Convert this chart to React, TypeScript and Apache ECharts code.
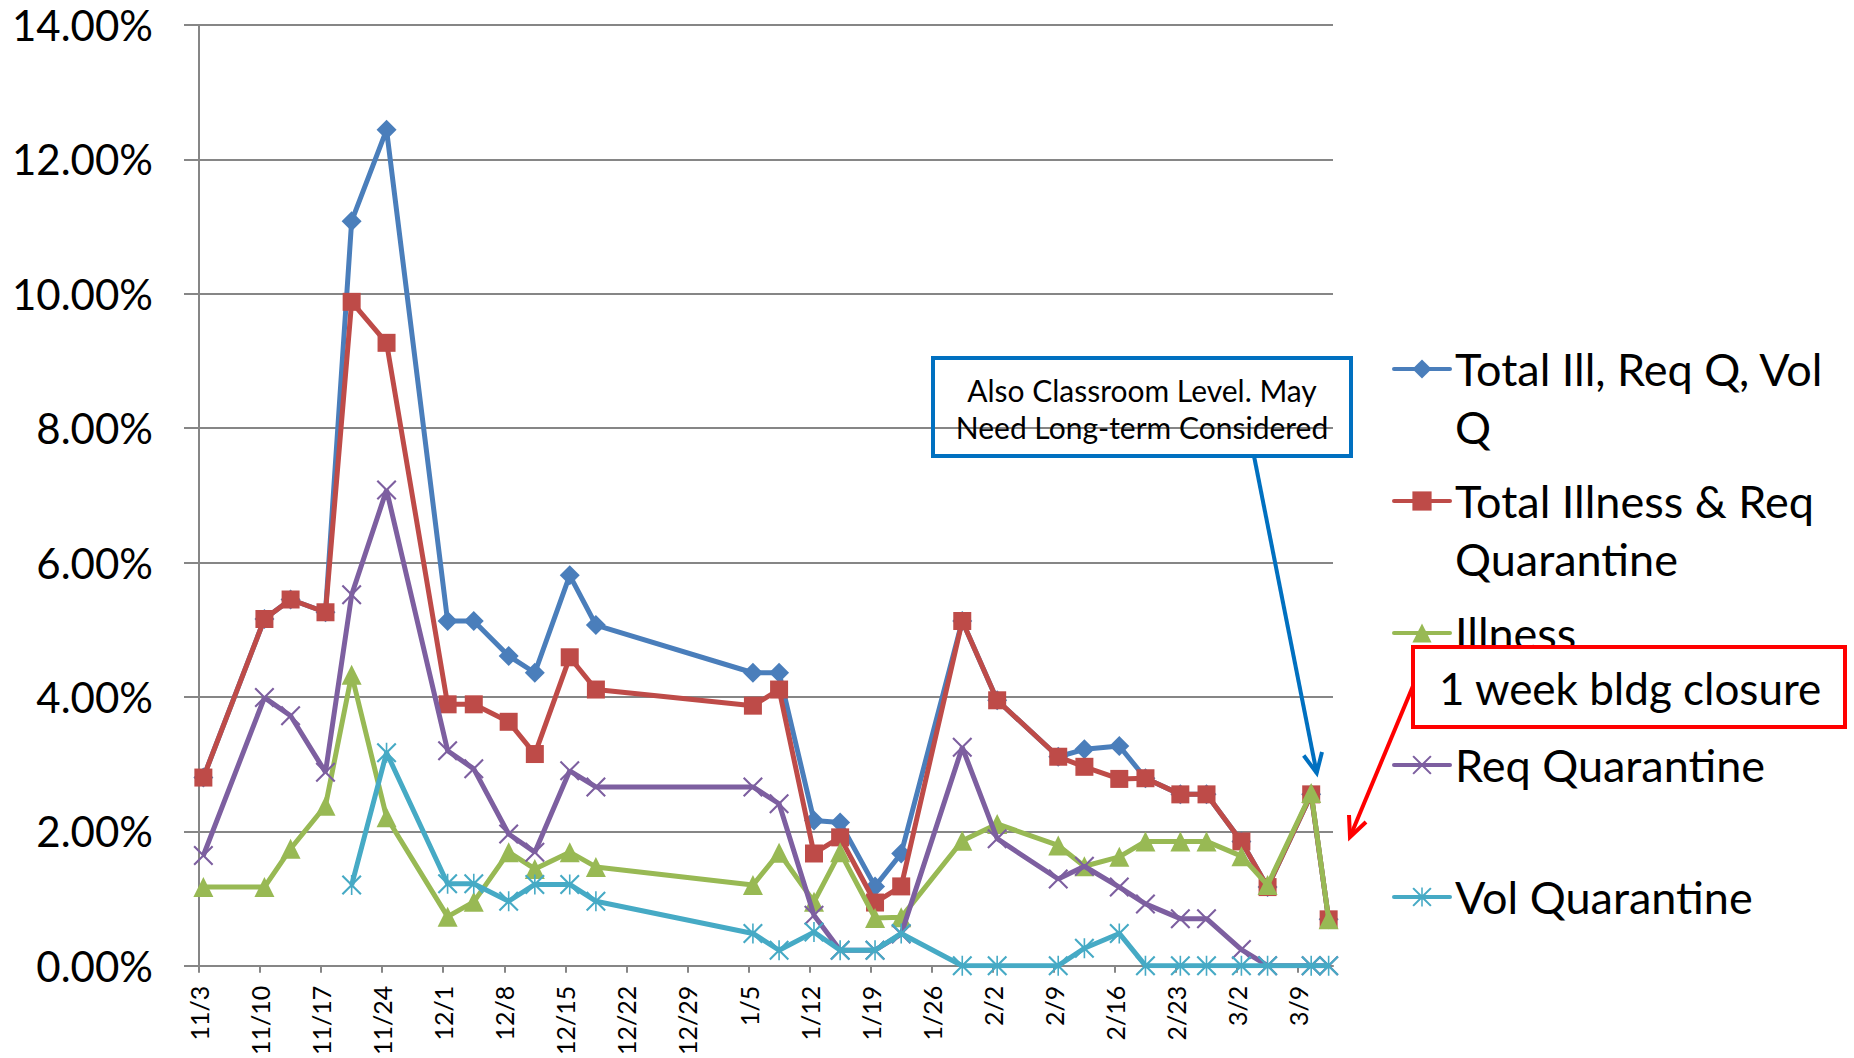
import React, { useEffect, useRef } from "react";
import * as echarts from "echarts";

// ---- data (percent units) ----
const dates = [
  "11/3", "11/10", "11/13", "11/17", "11/20", "11/24", "12/1", "12/4", "12/8", "12/11",
  "12/15", "12/18", "1/5", "1/8", "1/12", "1/15", "1/19", "1/22", "1/29", "2/2",
  "2/9", "2/12", "2/16", "2/19", "2/23", "2/26", "3/2", "3/5", "3/10", "3/12",
];

const tickLabels = [
  "11/3", "11/10", "11/17", "11/24", "12/1", "12/8", "12/15", "12/22", "12/29", "1/5",
  "1/12", "1/19", "1/26", "2/2", "2/9", "2/16", "2/23", "3/2", "3/9",
];

const yTicks = [0, 2, 4, 6, 8, 10, 12, 14];

const totalAll = [
  2.8, 5.16, 5.45, 5.26, 11.08, 12.44, 5.13, 5.13, 4.61, 4.36,
  5.81, 5.07, 4.36, 4.36, 2.16, 2.13, 1.18, 1.67, 5.13, 3.95,
  3.11, 3.22, 3.27, 2.79, 2.55, 2.55, 1.85, 1.17, 2.55, 0.69,
];

const totalIllReq = [
  2.8, 5.16, 5.45, 5.26, 9.88, 9.27, 3.89, 3.89, 3.63, 3.15,
  4.59, 4.11, 3.87, 4.11, 1.67, 1.91, 0.94, 1.18, 5.13, 3.95,
  3.11, 2.96, 2.78, 2.79, 2.55, 2.55, 1.85, 1.17, 2.55, 0.69,
];

const illness = [
  1.17, 1.17, 1.74, 2.38, 4.33, 2.21, 0.73, 0.95, 1.69, 1.44,
  1.69, 1.47, 1.2, 1.68, 0.95, 1.69, 0.71, 0.72, 1.86, 2.11,
  1.79, 1.48, 1.62, 1.85, 1.85, 1.85, 1.63, 1.2, 2.57, 0.69,
];

const reqQuarantine = [
  1.64, 3.99, 3.72, 2.88, 5.52, 7.08, 3.2, 2.93, 1.96, 1.69,
  2.9, 2.66, 2.66, 2.41, 0.75, 0.23, 0.23, 0.47, 3.25, 1.89,
  1.29, 1.48, 1.17, 0.92, 0.7, 0.7, 0.24, 0, 0, 0,
];

const volQuarantine = [
  null, null, null, null, 1.2, 3.17, 1.22, 1.22, 0.96, 1.21,
  1.21, 0.96, 0.48, 0.23, 0.5, 0.23, 0.23, 0.48, 0, 0,
  0, 0.26, 0.48, 0, 0, 0, 0, 0, 0, 0,
];

const seriesNames = [
  "Total Ill, Req Q, Vol Q",
  "Total Illness & Req Quarantine",
  "Illness",
  "Req Quarantine",
  "Vol Quarantine",
];
const legendLines = [
  ["Total Ill, Req Q, Vol", "Q"],
  ["Total Illness & Req", "Quarantine"],
  ["Illness"],
  ["Req Quarantine"],
  ["Vol Quarantine"],
];

const colors = ["#4A7EBB", "#BE4B48", "#98B954", "#7D5FA0", "#46AAC5"];

const FONT = "Lato";

const X_PATH =
  "M1.5,0L10,8.5L18.5,0L20,1.5L11.5,10L20,18.5L18.5,20L10,11.5L1.5,20L0,18.5L8.5,10L0,1.5Z";
const STAR_PATH = X_PATH + "M9.2,0L10.8,0L10.8,20L9.2,20Z";
const symbols = ["diamond", "rect", "triangle", "path://" + X_PATH, "path://" + STAR_PATH];
const symbolSizes = [[20, 20], 18, 20, 20, 20];

function dayOffset(s: string): number {
  const [m, d] = s.split("/").map(Number);
  const year = m >= 8 ? 2009 : 2010;
  return Math.round((Date.UTC(year, m - 1, d) - Date.UTC(2009, 10, 3)) / 86400000);
}

const tickValues = tickLabels.map(dayOffset);
const tickMap: Record<number, string> = {};
tickLabels.forEach((t, i) => (tickMap[tickValues[i]] = t));
const xMax = dayOffset(dates[dates.length - 1]) + 1;

export default function App() {
  const ref = useRef<HTMLDivElement>(null);

  useEffect(() => {
    if (!ref.current) return;
    const chart = echarts.init(ref.current, null, { renderer: "svg" });

    const allSeries = [totalAll, totalIllReq, illness, reqQuarantine, volQuarantine];
    const series = allSeries.map((vals, i) => ({
      name: seriesNames[i],
      type: "line",
      data: vals.map((v, k) => [dayOffset(dates[k]) + 0.5, v]),
      symbol: symbols[i],
      symbolSize: symbolSizes[i],
      showAllSymbol: true,
      lineStyle: { width: 5, color: colors[i] },
      itemStyle: { color: colors[i] },
      emphasis: { disabled: true },
      z: 2 + i,
    }));

    const LH = 58;
    const iconY = [369, 501, 633, 765, 897];
    const legends = seriesNames.map((name, i) => {
      const two = legendLines[i].length > 1;
      const text = two ? "\n" + legendLines[i].join("\n") : legendLines[i][0];
      return {
        data: [name],
        orient: "vertical",
        left: 1392,
        top: iconY[i] - (two ? 1.5 : 0.5) * LH,
        padding: 0,
        itemWidth: 56,
        itemHeight: 24,
        itemGap: 0,
        selectedMode: false,
        formatter: () => text,
        lineStyle: { width: 4, cap: "round" },
        textStyle: { fontFamily: FONT, fontSize: 45, lineHeight: LH, color: "#000" },
      };
    });

    chart.setOption({
      animation: false,
      backgroundColor: "#ffffff",
      grid: { left: 199, right: 521, top: 25, bottom: 88, containLabel: false },
      legend: legends,
      xAxis: {
        type: "value",
        min: 0,
        max: xMax,
        interval: 7,
        axisLine: { show: true, lineStyle: { color: "#868686", width: 2 } },
        axisTick: { show: true, length: 7, customValues: tickValues, lineStyle: { color: "#868686", width: 2 } },
        splitLine: { show: false },
        axisLabel: {
          customValues: tickValues,
          rotate: 90,
          margin: 20,
          formatter: (v: number) => tickMap[v] ?? "",
          fontFamily: FONT,
          fontSize: 25,
          color: "#000",
        },
      },
      yAxis: {
        type: "value",
        min: yTicks[0],
        max: yTicks[yTicks.length - 1],
        interval: 2,
        axisLine: { show: true, lineStyle: { color: "#868686", width: 2 } },
        axisTick: { show: true, length: 15, lineStyle: { color: "#868686", width: 2 } },
        splitLine: { show: true, lineStyle: { color: "#868686", width: 2 } },
        axisLabel: {
          margin: 46,
          formatter: (v: number) => v.toFixed(2) + "%",
          fontFamily: FONT,
          fontSize: 42,
          color: "#000",
        },
      },
      series,
      graphic: [
        {
          type: "rect",
          z: 100,
          shape: { x: 933, y: 358, width: 418, height: 98 },
          style: { fill: "none", stroke: "#0070C0", lineWidth: 4 },
        },
        {
          type: "text",
          z: 101,
          x: 1142,
          y: 408.5,
          style: {
            text: "Also Classroom Level. May\nNeed Long-term Considered",
            fontFamily: FONT,
            fontSize: 30,
            lineHeight: 37,
            fill: "#000",
            align: "center",
            verticalAlign: "middle",
          },
        },
        {
          type: "line",
          z: 100,
          shape: { x1: 1254, y1: 456, x2: 1316.7, y2: 773 },
          style: { stroke: "#0070C0", lineWidth: 4 },
        },
        {
          type: "polyline",
          z: 100,
          shape: { points: [[1303.7, 755.5], [1316.7, 773], [1322, 752]] },
          style: { stroke: "#0070C0", lineWidth: 4, fill: null },
        },
        {
          type: "line",
          z: 100,
          shape: { x1: 1413, y1: 686, x2: 1350, y2: 837 },
          style: { stroke: "#FF0000", lineWidth: 4 },
        },
        {
          type: "polyline",
          z: 100,
          shape: { points: [[1349, 815], [1350, 837], [1366, 822]] },
          style: { stroke: "#FF0000", lineWidth: 4, fill: null },
        },
        {
          type: "rect",
          z: 102,
          shape: { x: 1413, y: 647, width: 432, height: 80 },
          style: { fill: "#ffffff", stroke: "#FF0000", lineWidth: 4 },
        },
        {
          type: "text",
          z: 103,
          x: 1439,
          y: 688,
          style: {
            text: "1 week bldg closure",
            fontFamily: FONT,
            fontSize: 44,
            fill: "#000",
            align: "left",
            verticalAlign: "middle",
          },
        },
      ],
    });

    return () => chart.dispose();
  }, []);

  return (
    <div
      ref={ref}
      style={{ position: "fixed", left: 0, top: 0, width: 1854, height: 1058, background: "#fff" }}
    />
  );
}
